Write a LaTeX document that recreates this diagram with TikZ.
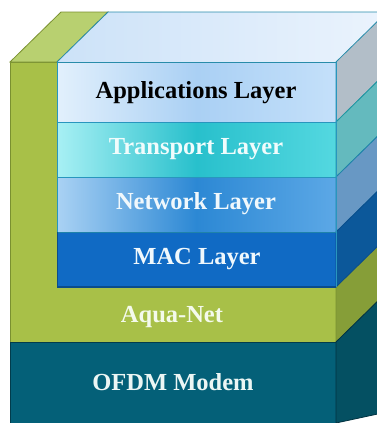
\documentclass[tikz,border=0pt]{standalone}
\usepackage{fontspec}
\setmainfont{Liberation Serif}
\begin{document}
\begin{tikzpicture}[x=1pt,y=-1pt,
  lbl/.style={font=\fontsize{24.5}{28}\selectfont\bfseries, text=white},
  edge/.style={line width=0.8pt}]
\useasboundingbox (0,0) rectangle (377,423);
\clip (0,0) rectangle (377,423);
\def\dx{51}\def\dy{-50}
% green L block
\fill[fill={rgb,255:red,168;green,192;blue,72}] (10,62) rectangle (336,342);
\draw[edge,draw={rgb,255:red,122;green,144;blue,48}] (10,62) rectangle (336,342);
% green top face
\filldraw[edge,fill={rgb,255:red,184;green,208;blue,112},draw={rgb,255:red,122;green,144;blue,48}]
  (10,62) -- ++(\dx,\dy) -- (108,12) -- (57,62) -- cycle;
% green side face
\filldraw[edge,fill={rgb,255:red,134;green,158;blue,56},draw={rgb,255:red,122;green,144;blue,48}]
  (336,287) -- ++(\dx,\dy) -- ++(0,55) -- (336,342) -- cycle;
% OFDM
\fill[fill={rgb,255:red,4;green,96;blue,120}] (10,342) rectangle (336,423);
\draw[edge,draw={rgb,255:red,2;green,60;blue,76}] (10,423) -- (10,342) -- (336,342) -- (336,423);
\filldraw[edge,fill={rgb,255:red,4;green,80;blue,98},draw={rgb,255:red,2;green,50;blue,64}]
  (336,342) -- ++(\dx,\dy) -- ++(0,120) -- (336,423) -- cycle;
% top face of blue stack
\shade[left color={rgb,255:red,204;green,226;blue,248}, right color={rgb,255:red,236;green,244;blue,253}]
  (57,62) -- (108,12) -- (400,12) -- (336,62) -- cycle;
\draw[edge,draw={rgb,255:red,40;green,140;blue,170}] (57,62) -- (108,12) -- (400,12);
% Applications layer
\shade[left color={rgb,255:red,226;green,240;blue,252}, right color={rgb,255:red,196;green,224;blue,250}, middle color={rgb,255:red,170;green,208;blue,244}]
  (57,62) rectangle (336,122);
\filldraw[edge,fill={rgb,255:red,178;green,190;blue,200},draw={rgb,255:red,40;green,140;blue,170}]
  (336,62) -- ++(\dx,\dy) -- ++(0,60) -- (336,122) -- cycle;
% Transport layer
\shade[left color={rgb,255:red,168;green,240;blue,244}, right color={rgb,255:red,84;green,216;blue,224}, middle color={rgb,255:red,40;green,192;blue,204}]
  (57,122) rectangle (336,177);
\filldraw[edge,fill={rgb,255:red,100;green,186;blue,190},draw={rgb,255:red,30;green,150;blue,160}]
  (336,122) -- ++(\dx,\dy) -- ++(0,55) -- (336,177) -- cycle;
% Network layer
\shade[left color={rgb,255:red,170;green,210;blue,244}, right color={rgb,255:red,92;green,168;blue,230}, middle color={rgb,255:red,44;green,136;blue,212}]
  (57,177) rectangle (336,232);
\filldraw[edge,fill={rgb,255:red,104;green,152;blue,196},draw={rgb,255:red,30;green,130;blue,170}]
  (336,177) -- ++(\dx,\dy) -- ++(0,55) -- (336,232) -- cycle;
% MAC layer
\fill[fill={rgb,255:red,16;green,106;blue,196}] (57,232) rectangle (336,287);
\filldraw[edge,fill={rgb,255:red,12;green,88;blue,154},draw={rgb,255:red,10;green,76;blue,140}]
  (336,232) -- ++(\dx,\dy) -- ++(0,55) -- (336,287) -- cycle;
% edges of blue layers
\draw[edge,draw={rgb,255:red,40;green,140;blue,170}] (57,62) -- (336,62);
\draw[edge,draw={rgb,255:red,40;green,150;blue,190}] (57,122) -- (336,122) (57,177) -- (336,177);
\draw[edge,draw={rgb,255:red,30;green,130;blue,170}] (57,232) -- (336,232);
\draw[line width=1.4pt,draw={rgb,255:red,10;green,76;blue,140}] (57,287) -- (336,287);
\draw[edge,draw={rgb,255:red,10;green,76;blue,140}] (57,232) -- (57,287);
\draw[edge,draw={rgb,255:red,40;green,150;blue,190}] (57,62) -- (57,232) (336,62) -- (336,287);
% labels
\node[lbl,text=black] (app) at (196,93) {Applications Layer};
\node[lbl,text={rgb,255:red,240;green,252;blue,252}] (tra) at (196,149) {Transport Layer};
\node[lbl,text={rgb,255:red,240;green,248;blue,252}] (net) at (196,204) {Network Layer};
\node[lbl,text={rgb,255:red,240;green,248;blue,252}] (mac) at (197,259) {MAC Layer};
\node[lbl,text={rgb,255:red,244;green,250;blue,236}] (aqua) at (172,317) {Aqua-Net};
\node[lbl,text={rgb,255:red,236;green,246;blue,244}] (ofdm) at (173,382) {OFDM Modem};
\end{tikzpicture}
\end{document}
